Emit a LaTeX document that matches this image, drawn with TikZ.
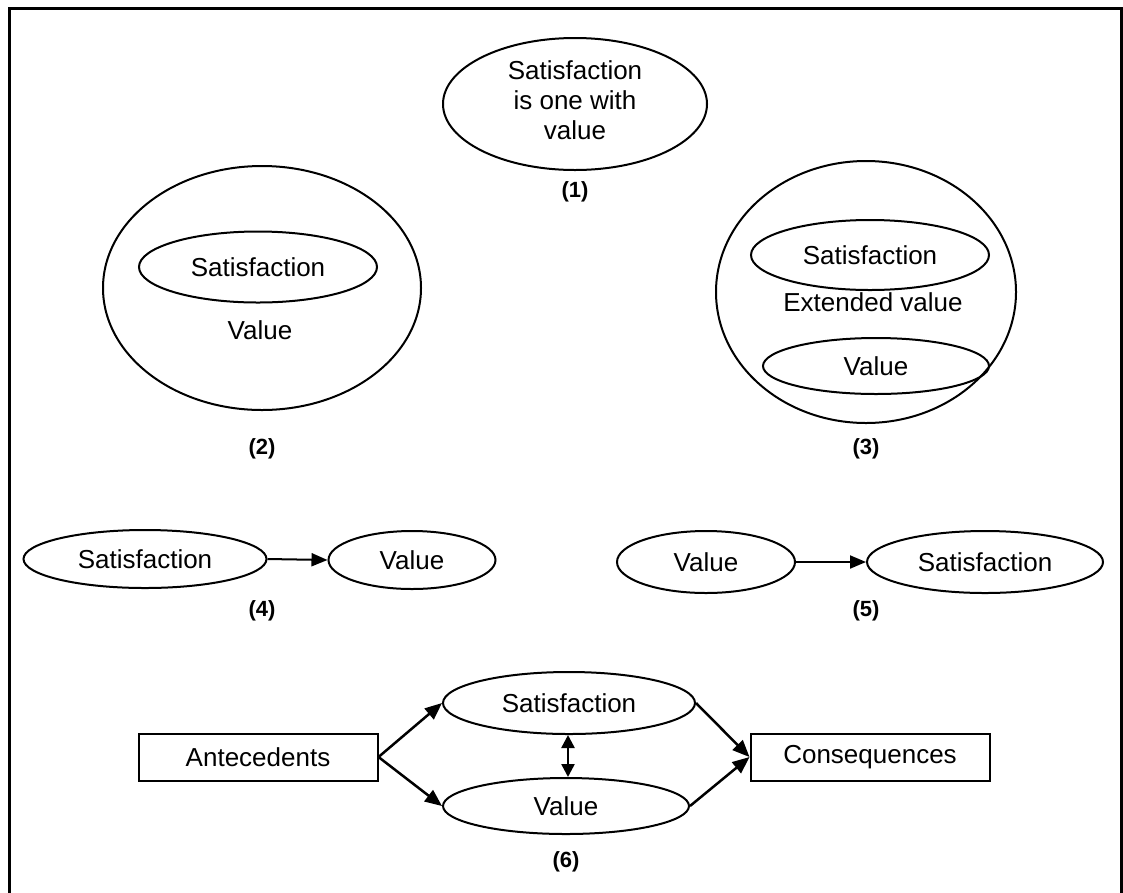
\documentclass[tikz,border=0pt]{standalone}
\usepackage{fontspec}
\setmainfont{Liberation Sans}
\usetikzlibrary{shapes.geometric,arrows.meta}
\begin{document}
\begin{tikzpicture}[x=1pt,y=-1pt,
  ell/.style={draw,ellipse,line width=2pt,inner sep=0pt,font=\fontsize{26}{30}\selectfont},
  txt/.style={inner sep=0pt,align=center,font=\fontsize{26}{30}\selectfont},
  lab/.style={inner sep=0pt,font=\fontsize{22}{26}\selectfont\bfseries},
  box/.style={draw,rectangle,line width=2pt,inner sep=0pt,font=\fontsize{26}{30}\selectfont},
  arr/.style={-{Triangle[length=16pt,width=13pt]},line width=2pt},
  arrb/.style={-{Triangle[length=17pt,width=14pt]},line width=2.5pt},
  darr/.style={{Triangle[length=13pt,width=13pt]}-{Triangle[length=13pt,width=13pt]},line width=2.5pt}]
\clip (0,0) rectangle (1123,892);
% frame
\draw[line width=3pt] (9,905) -- (9,8) -- (1121,8) -- (1121,905);
% (1)
\node[ell,minimum width=264,minimum height=132] (e1) at (575,104) {};
\node[txt] (t1) at (575,100) {Satisfaction\\is one with\\value};
\node[lab] (l1) at (575,192) {(1)};
% (2)
\node[ell,minimum width=318,minimum height=244] (e2) at (262,288) {};
\node[ell,minimum width=238,minimum height=71] (e2s) at (258,267) {Satisfaction};
\node[txt] (t2) at (260,330) {Value};
\node[lab] (l2) at (262,449) {(2)};
% (3)
\node[ell,minimum width=300,minimum height=262] (e3) at (866,292) {};
\node[ell,minimum width=238,minimum height=70] (e3s) at (870,255) {Satisfaction};
\node[txt] (t3) at (873,302) {Extended value};
\node[ell,minimum width=226,minimum height=56] (e3v) at (876,366) {Value};
\node[lab] (l3) at (866,449) {(3)};
% (4)
\node[ell,minimum width=243,minimum height=58] (e4s) at (145,559) {Satisfaction};
\node[ell,minimum width=167,minimum height=58] (e4v) at (412,560) {Value};
\draw[arr] (e4s.east) -- (e4v.west);
\node[lab] (l4) at (262,611) {(4)};
% (5)
\node[ell,minimum width=178,minimum height=62] (e5v) at (706,562) {Value};
\node[ell,minimum width=236,minimum height=62] (e5s) at (985,562) {Satisfaction};
\draw[arr] (e5v.east) -- (e5s.west);
\node[lab] (l5) at (866,611) {(5)};
% (6)
\node[box,minimum width=239,minimum height=47] (ant) at (258,757) {Antecedents};
\node[box,minimum width=239,minimum height=47] (con) at (870,757) {Consequences};
\node[ell,minimum width=252,minimum height=62] (e6s) at (569,703) {Satisfaction};
\node[ell,minimum width=246,minimum height=56] (e6v) at (566,806) {Value};
\draw[arrb] (ant.east) -- (e6s.west);
\draw[arrb] (ant.east) -- (e6v.west);
\draw[arrb] (e6s.east) -- (con.west);
\draw[arrb] (e6v.east) -- (con.west);
\draw[darr] (e6s.south -| 568,0) -- (e6v.north -| 568,0);
\node[lab] (l6) at (566,862) {(6)};
\end{tikzpicture}
\end{document}
